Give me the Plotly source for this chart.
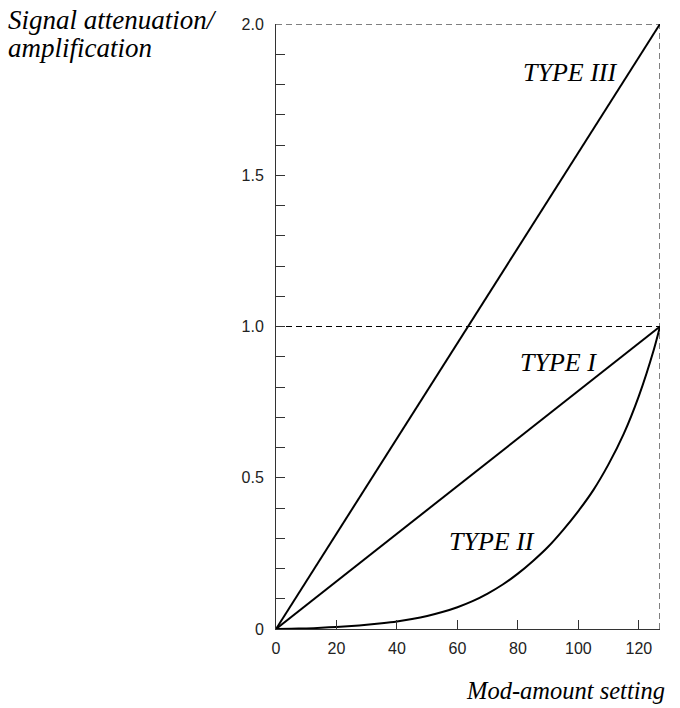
import plotly.graph_objects as go

# Data
type1_x = [0, 127]
type1_y = [0, 1.0]
type3_x = [0, 127]
type3_y = [0, 2.0]
type2_x = [0, 5, 10, 15, 20, 25, 30, 35, 40, 45, 50, 55, 60, 65, 70, 75, 80, 85, 90,
           95, 100, 105, 110, 115, 120, 125, 127]
type2_y = [0, 0.001, 0.002, 0.004, 0.007, 0.010, 0.014, 0.019, 0.025, 0.033, 0.043,
           0.056, 0.072, 0.092, 0.117, 0.147, 0.183, 0.225, 0.272, 0.328, 0.39, 0.46,
           0.545, 0.645, 0.77, 0.925, 1.0]
x_ticks = [0, 20, 40, 60, 80, 100, 120]
y_ticks = [0, 0.5, 1.0, 1.5, 2.0]
y_ticktext = ["0", "0.5", "1.0", "1.5", "2.0"]
labels = ["TYPE III", "TYPE I", "TYPE II"]
label_x = [97.5, 93.5, 71.5]
label_y = [1.84, 0.88, 0.29]

X_MAX = 127
line = dict(color="black", width=2)

fig = go.Figure()
fig.add_trace(go.Scatter(x=type3_x, y=type3_y, mode="lines", line=line, hoverinfo="skip"))
fig.add_trace(go.Scatter(x=type1_x, y=type1_y, mode="lines", line=line, hoverinfo="skip"))
fig.add_trace(go.Scatter(x=type2_x, y=type2_y, mode="lines",
                         line=dict(color="black", width=2, shape="spline", smoothing=0.8),
                         hoverinfo="skip"))

dash = dict(color="black", width=1, dash="6px,4px")
fig.add_shape(type="line", x0=0, x1=X_MAX, y0=2, y1=2, line=dash, layer="below")
fig.add_shape(type="line", x0=0, x1=X_MAX, y0=1, y1=1, line=dash, layer="below")
fig.add_shape(type="line", x0=X_MAX, x1=X_MAX, y0=0, y1=2, line=dash, layer="below")

serif = "Liberation Serif, Times New Roman, serif"
for t, xx, yy in zip(labels, label_x, label_y):
    fig.add_annotation(x=xx, y=yy, text=f"<i>{t}</i>", showarrow=False,
                       xanchor="center", yanchor="middle",
                       font=dict(family=serif, size=26, color="black"))

fig.add_annotation(xref="paper", yref="paper", x=(6 - 276) / 384, y=(629 - 20) / 605,
                   text="<i>Signal attenuation/</i>", showarrow=False,
                   xanchor="left", yanchor="middle",
                   font=dict(family=serif, size=27, color="black"))
fig.add_annotation(xref="paper", yref="paper", x=(6 - 276) / 384, y=(629 - 48) / 605,
                   text="<i>amplification</i>", showarrow=False,
                   xanchor="left", yanchor="middle",
                   font=dict(family=serif, size=27, color="black"))
fig.add_annotation(xref="paper", yref="paper", x=(667 - 276) / 384, y=(629 - 690) / 605,
                   text="<i>Mod-amount setting</i>", showarrow=False,
                   xanchor="right", yanchor="middle",
                   font=dict(family=serif, size=24.5, color="black"))

fig.update_layout(
    width=680, height=708,
    margin=dict(l=276, r=20, t=24, b=79),
    plot_bgcolor="white", paper_bgcolor="white",
    showlegend=False,
    font=dict(family="Liberation Sans, Arial, sans-serif", size=16, color="#222"),
)
fig.update_xaxes(range=[0, X_MAX], tickvals=x_ticks, ticks="inside", ticklen=9,
                 tickcolor="#333", showline=True, linecolor="#333", linewidth=1,
                 showgrid=False, zeroline=False, ticklabelstandoff=5)
fig.update_yaxes(range=[0, 2], tickvals=y_ticks, ticktext=y_ticktext, ticks="inside",
                 ticklen=9, tickcolor="#333", showline=True, linecolor="#333", linewidth=1,
                 showgrid=False, zeroline=False, ticklabelstandoff=8,
                 minor=dict(dtick=0.1, ticks="inside", ticklen=9, tickcolor="#333"))

fig.write_html("out.html", config={"displayModeBar": False},
               post_script="document.body.style.margin='0';")
